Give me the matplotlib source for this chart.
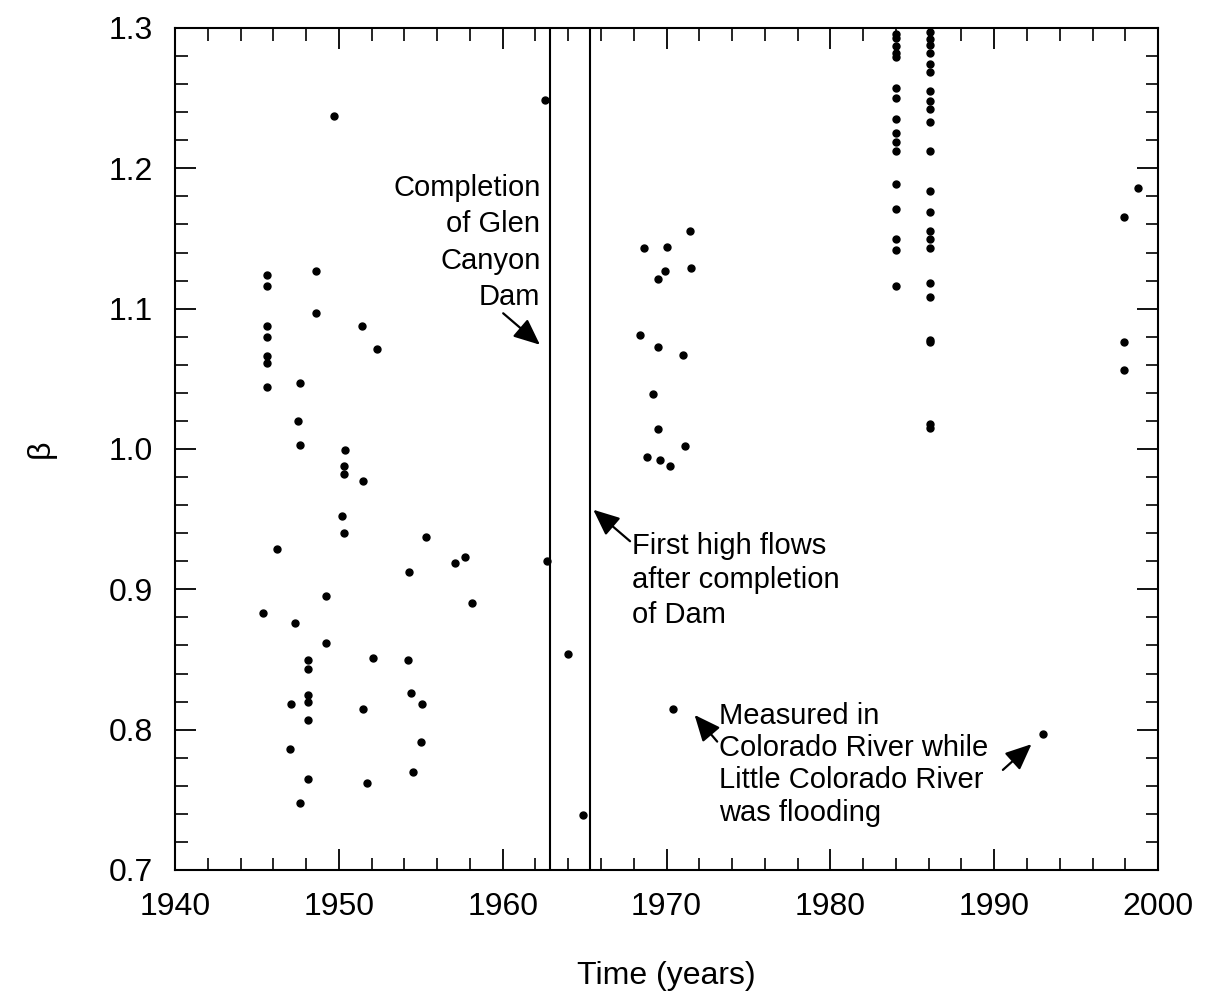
import matplotlib
matplotlib.use("Agg")
import matplotlib.pyplot as plt
from matplotlib.ticker import MultipleLocator

plt.rcParams['font.family'] = ['Liberation Sans', 'DejaVu Sans']

# measurements before the dam
years_early = [1945.6, 1945.6, 1945.6, 1945.6, 1945.6, 1945.6, 1945.6, 1945.4,
               1946.2, 1947.3, 1947.1, 1947.0,
               1947.6, 1947.5, 1947.6, 1947.6,
               1948.1, 1948.1, 1948.1, 1948.1, 1948.1, 1948.1,
               1948.6, 1948.6, 1949.2, 1949.2, 1949.7,
               1950.4, 1950.3, 1950.3, 1950.2, 1950.3,
               1951.4, 1951.5, 1951.5, 1951.7, 1952.1, 1952.3,
               1954.3, 1954.2, 1954.4, 1954.5, 1955.1, 1955.0, 1955.3,
               1957.1, 1957.7, 1958.1,
               1962.6, 1962.7, 1964.0, 1964.9]
beta_early = [1.124, 1.116, 1.088, 1.080, 1.066, 1.061, 1.044, 0.883,
              0.929, 0.876, 0.818, 0.786,
              1.047, 1.020, 1.003, 0.748,
              0.850, 0.843, 0.825, 0.820, 0.807, 0.765,
              1.127, 1.097, 0.895, 0.862, 1.237,
              0.999, 0.988, 0.982, 0.952, 0.940,
              1.088, 0.977, 0.815, 0.762, 0.851, 1.071,
              0.912, 0.850, 0.826, 0.770, 0.818, 0.791, 0.937,
              0.919, 0.923, 0.890,
              1.249, 0.920, 0.854, 0.739]

# measurements after the dam
years_late = [1971.4, 1968.6, 1970.0, 1969.9, 1971.5, 1969.5,
              1968.4, 1969.5, 1971.0, 1969.2, 1969.5, 1971.1,
              1968.8, 1969.6, 1970.2, 1970.4,
              1984.0, 1984.0, 1984.0, 1984.0, 1984.0, 1984.0, 1984.0, 1984.0,
              1984.0, 1984.0, 1984.0, 1984.0, 1984.0, 1984.0, 1984.0, 1984.0,
              1986.1, 1986.1, 1986.1, 1986.1, 1986.1, 1986.1, 1986.1, 1986.1,
              1986.1, 1986.1, 1986.1, 1986.1, 1986.1, 1986.1, 1986.1, 1986.1,
              1986.1, 1986.1, 1986.1, 1986.1, 1986.1, 1986.1,
              1993.0, 1998.8, 1997.9, 1997.9, 1997.9]
beta_late = [1.155, 1.143, 1.144, 1.127, 1.129, 1.121,
             1.081, 1.073, 1.067, 1.039, 1.014, 1.002,
             0.994, 0.992, 0.988, 0.815,
             1.296, 1.293, 1.287, 1.282, 1.279, 1.257, 1.250, 1.235,
             1.225, 1.219, 1.212, 1.189, 1.171, 1.150, 1.142, 1.116,
             1.297, 1.292, 1.288, 1.282, 1.274, 1.269, 1.255, 1.248,
             1.242, 1.233, 1.212, 1.184, 1.169, 1.155, 1.150, 1.143,
             1.118, 1.108, 1.078, 1.076, 1.018, 1.015,
             0.797, 1.186, 1.165, 1.076, 1.056]

dam_done = 1962.9
first_flood = 1965.3

fig = plt.figure(figsize=(12.07, 10), dpi=100)
ax = fig.add_axes([0.145, 0.13, 0.8145, 0.842])

ax.plot(years_early + years_late, beta_early + beta_late, 'o', color='black',
        markersize=5, linestyle='none')

ax.axvline(dam_done, color='black', lw=1.5)
ax.axvline(first_flood, color='black', lw=1.5)

arrow = dict(arrowstyle='-|>,head_length=1.6,head_width=0.7', color='black', lw=1.6)
fs = 21

ax.annotate('', xy=(1962.4, 1.073), xytext=(1959.9, 1.098), arrowprops=arrow)
ax.text(1962.3, 1.196, 'Completion\nof Glen\nCanyon\nDam', ha='right', va='top',
        fontsize=fs, linespacing=1.38)

ax.annotate('', xy=(1965.4, 0.958), xytext=(1967.9, 0.933), arrowprops=arrow)
ax.text(1967.9, 0.941, 'First high flows\nafter completion\nof Dam', ha='left', va='top',
        fontsize=fs, linespacing=1.3)

ax.annotate('', xy=(1971.6, 0.812), xytext=(1973.2, 0.790), arrowprops=arrow)
ax.annotate('', xy=(1992.4, 0.791), xytext=(1990.4, 0.770), arrowprops=arrow)
ax.text(1973.2, 0.820, 'Measured in\nColorado River while\nLittle Colorado River\nwas flooding',
        ha='left', va='top', fontsize=fs, linespacing=1.2)

ax.set_xlim(1940, 2000)
ax.set_ylim(0.7, 1.3)
ax.xaxis.set_major_locator(MultipleLocator(10))
ax.xaxis.set_minor_locator(MultipleLocator(2))
ax.yaxis.set_major_locator(MultipleLocator(0.1))
ax.yaxis.set_minor_locator(MultipleLocator(0.02))
ax.yaxis.set_major_formatter(plt.FormatStrFormatter('%.1f'))
ax.tick_params(which='both', direction='in', top=True, right=True, labelsize=23)
ax.tick_params(which='major', length=15, width=1.3, pad=16)
ax.tick_params(which='minor', length=9, width=1.2)
for s in ax.spines.values():
    s.set_linewidth(1.5)

ax.set_xlabel('Time (years)', fontsize=23, labelpad=28)
ax.set_ylabel('β', fontsize=23, labelpad=38)

fig.savefig('out.png', dpi=100)
